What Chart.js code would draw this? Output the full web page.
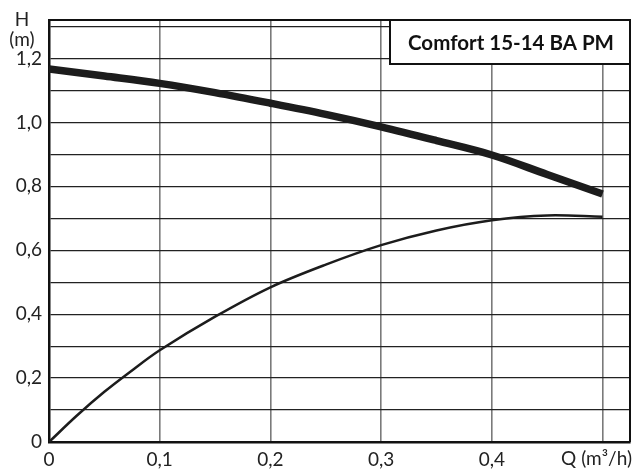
<!DOCTYPE html>
<html>
<head>
<meta charset="utf-8">
<script src="https://cdn.jsdelivr.net/npm/chart.js@4"></script>
<style>
    body { margin: 0; background: #fff; }
    #wrap { width: 635px; height: 472px; position: relative; }
</style>
</head>
<body>
<div id="wrap"><canvas id="grafico"></canvas></div>
<script>
// dados
const qHead = [0, 0.05, 0.1, 0.15, 0.2, 0.25, 0.3, 0.35, 0.4, 0.45, 0.5];
const headValues = [1.167, 1.145, 1.122, 1.093, 1.060, 1.025, 0.986, 0.943, 0.898, 0.837, 0.776];

const qLower = [0, 0.025, 0.05, 0.075, 0.1, 0.15, 0.2, 0.25, 0.3, 0.35, 0.4, 0.45, 0.5];
const lowerValues = [0, 0.082, 0.157, 0.224, 0.287, 0.392, 0.484, 0.555, 0.616, 0.662, 0.694, 0.709, 0.705];

const xTickValues = [0, 0.1, 0.2, 0.3, 0.4, 0.5];
const yTickValues = [0, 0.1, 0.2, 0.3, 0.4, 0.5, 0.6, 0.7, 0.8, 0.9, 1.0, 1.1, 1.2, 1.3];
const yLabelled = [0, 0.2, 0.4, 0.6, 0.8, 1.0, 1.2];

const pumpName = 'Comfort 15-14 BA PM';
const yTitle = ['H', '(m)'];
const xTitle = 'Q (m³/h)';

const fonte = 'Lato, "Noto Sans", sans-serif';

function virgula(v) {
    if (v === 0) return '0';
    return v.toFixed(1).replace('.', ',');
}

// moldura, caixa do titulo e textos dos eixos
const extras = {
    id: 'extras',
    afterDatasetsDraw(chart) {
        const { ctx, chartArea: a } = chart;
        ctx.save();

        ctx.strokeStyle = '#111';
        ctx.lineWidth = 2;
        ctx.beginPath();
        ctx.moveTo(a.left, a.top);
        ctx.lineTo(a.right, a.top);
        ctx.lineTo(a.right, a.bottom);
        ctx.stroke();

        // caixa
        const bx = 390, by = a.top, bw = a.right - bx, bh = 44;
        ctx.fillStyle = '#fff';
        ctx.fillRect(bx, by, bw, bh);
        ctx.strokeRect(bx, by, bw, bh);
        ctx.fillStyle = '#111';
        ctx.font = 'bold 20.5px ' + fonte;
        ctx.textAlign = 'center';
        ctx.textBaseline = 'middle';
        ctx.fillText(pumpName, bx + bw / 2 + 1, by + bh / 2 + 1);

        ctx.font = '19px ' + fonte;
        ctx.fillStyle = '#222';
        ctx.fillText(yTitle[0], 22, 20);
        ctx.fillText(yTitle[1], 22, 40);

        ctx.textAlign = 'right';
        ctx.fillText(xTitle, 632, 459);
        ctx.restore();
    }
};

const chart = new Chart(document.getElementById('grafico'), {
    type: 'line',
    data: {
        datasets: [
            {
                label: 'H',
                data: qHead.map((q, i) => ({ x: q, y: headValues[i] })),
                borderColor: '#1c1c1c',
                borderWidth: 7.5,
                pointRadius: 0,
                tension: 0.35
            },
            {
                label: 'curva 2',
                data: qLower.map((q, i) => ({ x: q, y: lowerValues[i] })),
                borderColor: '#1c1c1c',
                borderWidth: 2.5,
                pointRadius: 0,
                tension: 0.35
            }
        ]
    },
    options: {
        responsive: true,
        maintainAspectRatio: false,
        animation: false,
        layout: { padding: { top: 20, right: 5, left: 0, bottom: 0 } },
        plugins: {
            legend: { display: false },
            tooltip: { enabled: false }
        },
        scales: {
            x: {
                type: 'linear',
                min: 0,
                max: 0.5248,
                afterBuildTicks: s => { s.ticks = xTickValues.map(v => ({ value: v })); },
                afterFit: s => { s.height = 30; },
                grid: { color: '#7a7a7a', lineWidth: 1.6, drawTicks: false },
                border: { color: '#111', width: 2.5 },
                ticks: {
                    padding: 6,
                    color: '#222',
                    font: { family: fonte, size: 19 },
                    maxRotation: 0,
                    callback: v => (v >= 0.5 ? '' : virgula(v))
                }
            },
            y: {
                min: 0,
                max: 1.3203,
                afterBuildTicks: s => { s.ticks = yTickValues.map(v => ({ value: v })); },
                afterFit: s => { s.width = 49; },
                grid: { color: '#222', lineWidth: 1.2, drawTicks: false },
                border: { color: '#111', width: 2.5 },
                ticks: {
                    padding: 7,
                    color: '#222',
                    font: { family: fonte, size: 19 },
                    callback: v => (yLabelled.some(t => Math.abs(t - v) < 1e-6) ? virgula(v) : '')
                }
            }
        }
    },
    plugins: [extras]
});
</script>
</body>
</html>
